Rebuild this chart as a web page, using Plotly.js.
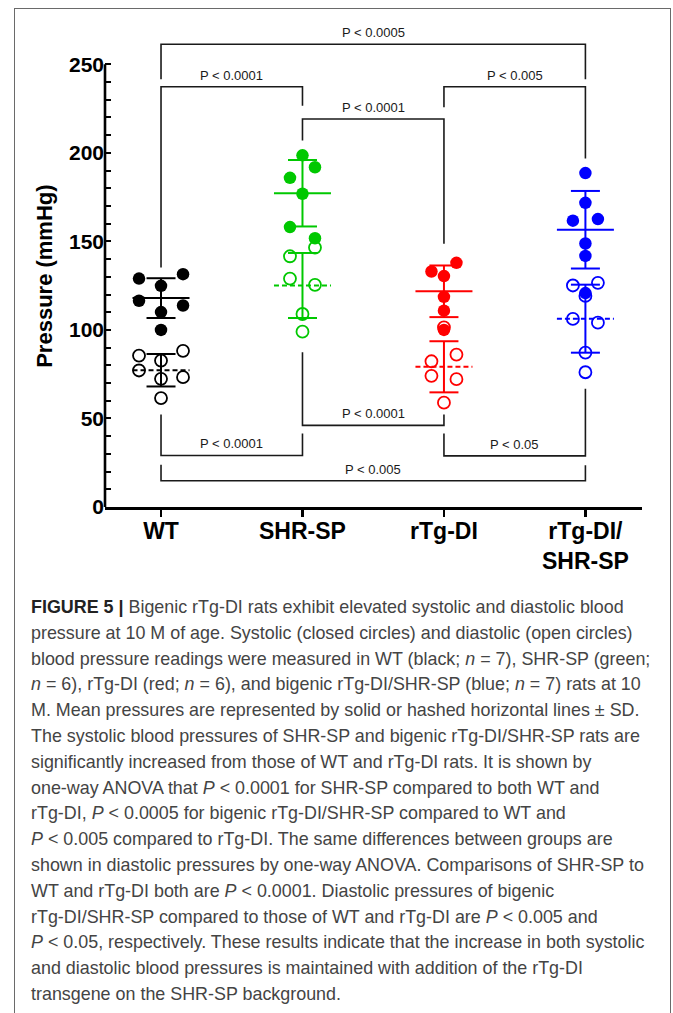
<!DOCTYPE html>
<html>
<head>
<meta charset="utf-8">
<script src="https://cdn.plot.ly/plotly-3.0.1.min.js"></script>
<style>
  html, body { margin: 0; padding: 0; background: #fff; }
  #wrap { position: relative; width: 673px; height: 1013px; overflow: hidden; }
  #chart { position: absolute; left: 0; top: 0; width: 673px; height: 1013px; }
  #frame { position: absolute; left: 14px; top: 8px; width: 657px; height: 1100px;
           border: 1.5px solid #6a6a6a; box-sizing: border-box; pointer-events: none; }
  #caption { position: absolute; left: 31px; top: 595px; font-family: "Liberation Sans", Arial, Helvetica, sans-serif;
             font-weight: 400; font-size: 17.9px; line-height: 25.8px; color: #444; white-space: nowrap; }
  #caption b { font-weight: 700; color: #222; }
</style>
</head>
<body>
<div id="wrap">
  <div id="chart"></div>
  <div id="frame"></div>
  <div id="caption"></div>
</div>
<script>
// ---------------- data ----------------
const groups = ['WT', 'SHR-SP', 'rTg-DI', 'rTg-DI/<br>SHR-SP'];

const systolicWT  = [129.0, 131.5, 124.9, 116.5, 113.8, 110.1, 100.0];
const diastolicWT = [85.5, 88.2, 82.7, 77.1, 72.4, 73.3, 61.5];

const systolicSHR  = [198.6, 191.9, 185.9, 176.9, 158.1, 151.8];
const diastolicSHR = [146.5, 141.6, 125.5, 129.0, 109.0, 99.0];

const systolicRTG  = [137.9, 133.0, 130.4, 118.7, 110.9, 100.0];
const diastolicRTG = [101.5, 86.1, 82.3, 74.1, 72.2, 58.9];

const systolicBIG  = [188.6, 171.8, 162.6, 161.7, 148.8, 141.8, 120.8];
const diastolicBIG = [126.6, 125.1, 119.2, 104.1, 106.2, 87.2, 76.1];

const yTickValues = [0, 50, 100, 150, 200, 250];

// significance comparisons (group indices, label, bracket level and leg ends in mmHg)
const cmpLabels = ['P < 0.0005', 'P < 0.0001', 'P < 0.0001', 'P < 0.005',
                   'P < 0.0001', 'P < 0.0001', 'P < 0.05', 'P < 0.005'];
const cmpFrom   = [0, 0, 1, 2, 0, 1, 2, 0];
const cmpTo     = [3, 1, 2, 3, 1, 2, 3, 3];
const cmpBar    = [261.3, 237.3, 219.1, 237.3, 29.1, 46.1, 28.9, 14.8];
const cmpLegA   = [241.6, 135.2, 207.0, 225.8, 52.3, 87.4, 41.5, 23.8];
const cmpLegB   = [241.6, 226.6, 148.7, 196.8, 41.5, 52.3, 66.8, 23.6];

// ---------------- styles ----------------
const groupColors = ['#000000', '#00c800', '#ff0000', '#0000ff'];
const spreadPx = [22, 12.5, 12.5, 12.5];
const FONT = '"Liberation Sans", Arial, Helvetica, sans-serif';

const systolic  = [systolicWT, systolicSHR, systolicRTG, systolicBIG];
const diastolic = [diastolicWT, diastolicSHR, diastolicRTG, diastolicBIG];

// plot geometry (for converting pixel spreads to axis units)
const W = 673, H = 1013;
const margin = {l: 105, r: 31, t: 36, b: 506};
const xRange = [-0.396, 3.40];
const pxPerX = (W - margin.l - margin.r) / (xRange[1] - xRange[0]);

function mean(a) { return a.reduce((s, v) => s + v, 0) / a.length; }
function sd(a) { const m = mean(a); return Math.sqrt(a.reduce((s, v) => s + (v - m) * (v - m), 0) / (a.length - 1)); }

// simple row-based swarm layout (points close in value share a row)
function swarm(vals, tol) {
  const idx = vals.map((v, i) => i).sort((a, b) => vals[b] - vals[a]);
  const off = new Array(vals.length).fill(0);
  let k = 0, multi = 0;
  while (k < idx.length) {
    const row = [idx[k]];
    let j = k + 1;
    while (j < idx.length && row.length < 3 && vals[row[0]] - vals[idx[j]] <= tol) { row.push(idx[j]); j++; }
    let pat;
    if (row.length === 1) pat = [0];
    else {
      const s = (multi % 2 === 0) ? 1 : -1;
      pat = row.length === 2 ? [s, -s] : [s, -s, 0];
      multi++;
    }
    row.forEach((p, q) => off[p] = pat[q]);
    k = j;
  }
  return off;
}

const traces = [];
const meanHalf = 28.5 / pxPerX, capHalf = 14.5 / pxPerX;

function addSeries(i, vals, open) {
  const col = groupColors[i];
  const m = mean(vals), s = sd(vals);
  const step = spreadPx[i] / pxPerX;
  const off = swarm(vals, 6.65);
  traces.push({x: [i, i], y: [m - s, m + s], mode: 'lines', line: {color: col, width: 2}, hoverinfo: 'skip', showlegend: false});
  traces.push({x: [i - capHalf, i + capHalf], y: [m + s, m + s], mode: 'lines', line: {color: col, width: 2}, hoverinfo: 'skip', showlegend: false});
  traces.push({x: [i - capHalf, i + capHalf], y: [m - s, m - s], mode: 'lines', line: {color: col, width: 2}, hoverinfo: 'skip', showlegend: false});
  traces.push({x: [i - meanHalf, i + meanHalf], y: [m, m], mode: 'lines',
               line: {color: col, width: 2, dash: open ? '5px,3px' : 'solid'}, hoverinfo: 'skip', showlegend: false});
  traces.push({
    x: vals.map((v, k) => i + off[k] * step), y: vals, mode: 'markers', showlegend: false,
    marker: open ? {symbol: 'circle-open', size: 12, color: col, line: {color: col, width: 1.8}}
                 : {symbol: 'circle', size: 12.5, color: col, line: {width: 0}}
  });
}

for (let i = 0; i < groups.length; i++) addSeries(i, diastolic[i], true);
for (let i = 0; i < groups.length; i++) addSeries(i, systolic[i], false);

// brackets
const shapes = [];
const annotations = [];
for (let c = 0; c < cmpLabels.length; c++) {
  const a = cmpFrom[c], b = cmpTo[c];
  shapes.push({type: 'path', xref: 'x', yref: 'y',
    path: `M ${a},${cmpLegA[c]} L ${a},${cmpBar[c]} L ${b},${cmpBar[c]} L ${b},${cmpLegB[c]}`,
    line: {color: '#1a1a1a', width: 1.6}});
  annotations.push({xref: 'x', yref: 'y', x: (a + b) / 2, y: cmpBar[c], yanchor: 'bottom', yshift: 2,
    text: cmpLabels[c], showarrow: false, font: {family: FONT, size: 13, color: '#1a1a1a'}});
}
// y axis line (0 to 250)
shapes.push({type: 'line', xref: 'paper', yref: 'y', x0: 0, x1: 0, y0: 0, y1: yTickValues[yTickValues.length - 1],
             line: {color: '#000', width: 2.6}});

// y axis title
annotations.push({xref: 'paper', yref: 'y', x: (45 - margin.l) / (W - margin.l - margin.r), y: 130,
  text: 'Pressure (mmHg)', textangle: -90, showarrow: false, xanchor: 'center', yanchor: 'middle',
  font: {family: FONT, size: 22, color: '#000', weight: 700}});

const minorTicks = [];
for (let v = 0; v <= yTickValues[yTickValues.length - 1]; v += 10) minorTicks.push(v);

const layout = {
  width: W, height: H, margin: margin,
  paper_bgcolor: '#fff', plot_bgcolor: '#fff',
  showlegend: false,
  xaxis: {
    range: xRange, tickvals: groups.map((g, i) => i), ticktext: groups,
    showgrid: false, zeroline: false, showline: true, linecolor: '#000', linewidth: 2.6,
    ticks: 'outside', ticklen: 7, tickwidth: 2.4, tickcolor: '#000', ticklabelstandoff: -5,
    tickfont: {family: FONT, size: 23, color: '#000', weight: 700}
  },
  yaxis: {
    range: [0, 266], tickvals: minorTicks,
    ticktext: minorTicks.map(v => yTickValues.includes(v) ? String(v) : ''),
    showgrid: false, zeroline: false, showline: false,
    ticks: 'inside', ticklen: 6, tickwidth: 2, tickcolor: '#000',
    tickfont: {family: FONT, size: 21, color: '#000', weight: 700}
  },
  shapes: shapes,
  annotations: annotations
};

Plotly.newPlot('chart', traces, layout, {displayModeBar: false, staticPlot: true});

// ---------------- caption ----------------
const captionLines = [
  '<b>FIGURE 5 |</b> Bigenic rTg-DI rats exhibit elevated systolic and diastolic blood',
  'pressure at 10 M of age. Systolic (closed circles) and diastolic (open circles)',
  'blood pressure readings were measured in WT (black; <i>n</i> = 7), SHR-SP (green;',
  '<i>n</i> = 6), rTg-DI (red; <i>n</i> = 6), and bigenic rTg-DI/SHR-SP (blue; <i>n</i> = 7) rats at 10',
  'M. Mean pressures are represented by solid or hashed horizontal lines ± SD.',
  'The systolic blood pressures of SHR-SP and bigenic rTg-DI/SHR-SP rats are',
  'significantly increased from those of WT and rTg-DI rats. It is shown by',
  'one-way ANOVA that <i>P</i> &lt; 0.0001 for SHR-SP compared to both WT and',
  'rTg-DI, <i>P</i> &lt; 0.0005 for bigenic rTg-DI/SHR-SP compared to WT and',
  '<i>P</i> &lt; 0.005 compared to rTg-DI. The same differences between groups are',
  'shown in diastolic pressures by one-way ANOVA. Comparisons of SHR-SP to',
  'WT and rTg-DI both are <i>P</i> &lt; 0.0001. Diastolic pressures of bigenic',
  'rTg-DI/SHR-SP compared to those of WT and rTg-DI are <i>P</i> &lt; 0.005 and',
  '<i>P</i> &lt; 0.05, respectively. These results indicate that the increase in both systolic',
  'and diastolic blood pressures is maintained with addition of the rTg-DI',
  'transgene on the SHR-SP background.'
];
document.getElementById('caption').innerHTML = captionLines.join('<br>');
</script>
</body>
</html>
